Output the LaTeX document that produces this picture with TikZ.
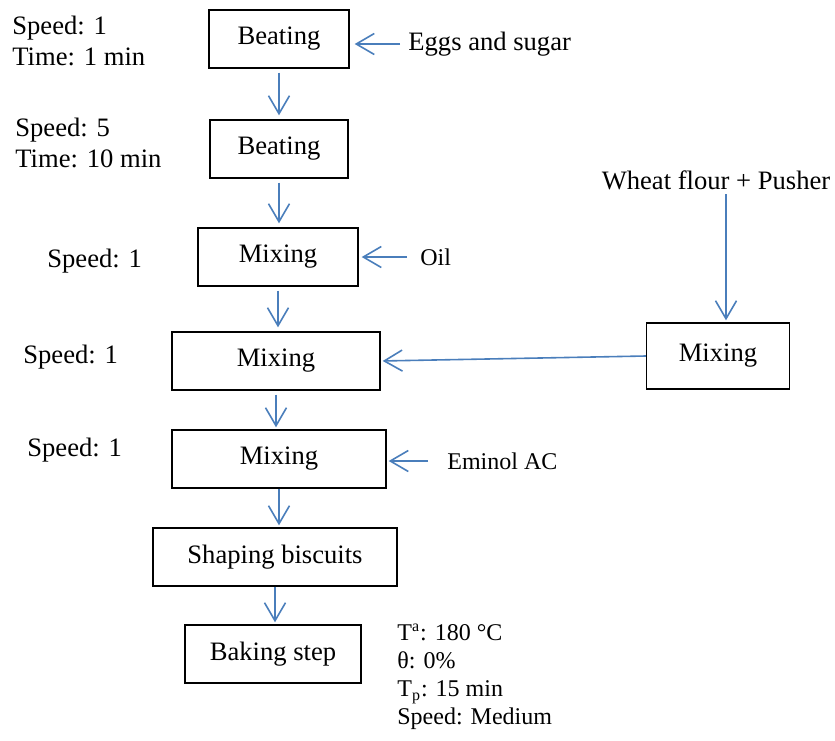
\documentclass[tikz,border=0pt]{standalone}
\usepackage{fontspec}
\setmainfont{Liberation Serif}
\usepackage{tikz}
\usetikzlibrary{arrows.meta,positioning}
\definecolor{arrowblue}{RGB}{74,126,187}

\begin{document}
\begin{tikzpicture}[
  x=0.5pt, y=-0.5pt,
  stepbox/.style={rectangle, draw, line width=0.7pt, minimum height=29pt,
                  minimum width=#1, text centered, inner sep=2pt,
                  font=\fontsize{13.3}{15.5}\selectfont},
  stepbox/.default=70pt,
  note/.style={inner sep=0pt, align=left, font=\fontsize{13.3}{15.5}\selectfont},
  addin/.style={inner sep=0pt, align=left, font=\fontsize{12}{14}\selectfont},
  arrow/.style={-{Straight Barb[length=9pt,width=10.5pt]}, draw=arrowblue, line width=0.8pt}
]
  \useasboundingbox (0,0) rectangle (835,740);

  % main line
  \node[stepbox=70pt]   (beat1) at (279,39)  {Beating};
  \node[stepbox=69pt]   (beat2) at (279,149) {Beating};
  \node[stepbox=80pt]   (mix1)  at (278,257) {Mixing};
  \node[stepbox=104pt]  (mix2)  at (276,361) {Mixing};
  \node[stepbox=107pt]  (mix3)  at (279,459) {Mixing};
  \node[stepbox=122pt]  (shape) at (275,557) {Shaping biscuits};
  \node[stepbox=88pt]   (bake)  at (273,654) {Baking step};

  % side line
  \node[stepbox=71.5pt, minimum height=33pt] (mixr) at (718,356) {Mixing};
  \node[note, anchor=south] (flour) at (716,190) {Wheat flour + Pusher};

  % ingredients
  \node[note, anchor=west]  (eggs)   at (408,44)  {Eggs and sugar};
  \node[addin, anchor=west] (oil)    at (420,257) {Oil};
  \node[addin, anchor=west] (eminol) at (447,461) {Eminol AC};

  % settings
  \node[note, anchor=west] (set1) at (12,41)  {Speed: 1\\Time: 1 min};
  \node[note, anchor=west] (set2) at (15,143) {Speed: 5\\Time: 10 min};
  \node[note, anchor=west] (set3) at (47,261) {Speed: 1};
  \node[note, anchor=west] (set4) at (23,357) {Speed: 1};
  \node[note, anchor=west] (set5) at (27,450) {Speed: 1};
  \node[addin, anchor=north west, font=\fontsize{12}{14}\selectfont] (bakeset) at (397,624)
    {T\textsuperscript{a}: 180 °C\\θ: 0\%\\T\textsubscript{p}: 15 min\\Speed: Medium};

  \draw[arrow, shorten <=2pt, shorten >=2pt] (beat1.south) -- (beat1.south |- beat2.north);
  \draw[arrow, shorten <=2pt, shorten >=2pt] (beat2.south) -- (beat2.south |- mix1.north);
  \draw[arrow, shorten <=2pt, shorten >=2pt] (mix1.south) -- (mix1.south |- mix2.north);
  \draw[arrow, shorten <=2pt, shorten >=1pt] (mix2.south) -- (mix2.south |- mix3.north);
  \draw[arrow, shorten >=1pt] (mix3.south) -- (mix3.south |- shape.north);
  \draw[arrow, shorten >=1pt] (shape.south) -- (shape.south |- bake.north);

  \draw[arrow, shorten <=4pt, shorten >=2.5pt] (eggs.west) -- (eggs.west -| beat1.east);
  \draw[arrow, shorten <=6.5pt, shorten >=1.5pt] (oil.west) -- (oil.west -| mix1.east);
  \draw[arrow, shorten <=9.5pt, shorten >=1pt] (eminol.west) -- (eminol.west -| mix3.east);
  \draw[arrow, shorten >=1pt] (mixr.west) -- (mix2.east);
  \draw[arrow, shorten <=2pt, shorten >=1pt] (flour.south -| mixr.north) ++(8,0) -- ([xshift=4pt]mixr.north);
\end{tikzpicture}
\end{document}
